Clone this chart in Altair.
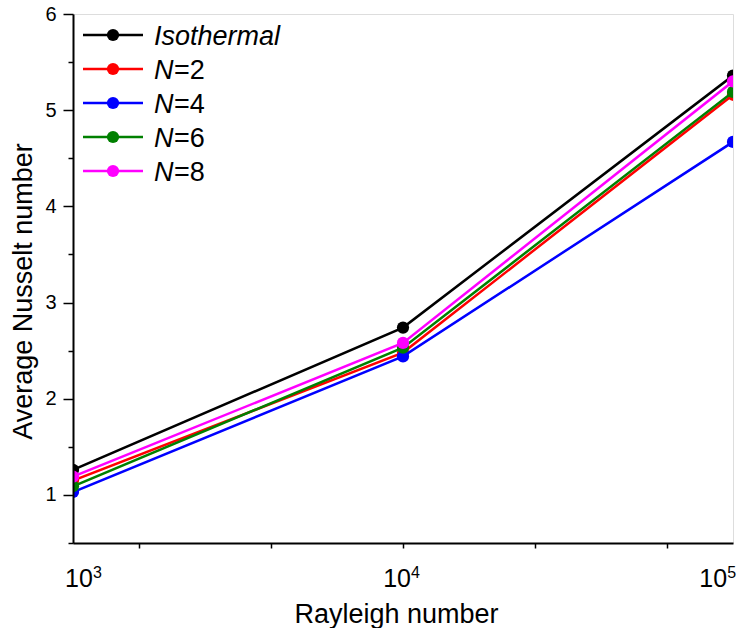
import altair as alt
import pandas as pd
import numpy as np

# ---------------- data ----------------
rayleigh = [1000, 10000, 100000]
series_names = ["Isothermal", "N=2", "N=4", "N=6", "N=8"]
nu_isothermal = [1.26, 2.74, 5.36]
nu_n2 = [1.15, 2.48, 5.16]
nu_n4 = [1.03, 2.44, 4.67]
nu_n6 = [1.09, 2.53, 5.19]
nu_n8 = [1.19, 2.58, 5.30]
series_values = [nu_isothermal, nu_n2, nu_n4, nu_n6, nu_n8]
series_colors = ["#000000", "#FF0000", "#0000FF", "#008000", "#FF00FF"]
legend_italic = ["Isothermal", "N", "N", "N", "N"]
legend_rest = ["", "=2", "=4", "=6", "=8"]
x_label_exponents = [3, 4, 5]
y_tick_values = [0.5, 1, 1.5, 2, 2.5, 3, 3.5, 4, 4.5, 5, 5.5, 6]
x_tick_log_positions = [3.2, 3.6, 4.0, 4.4, 4.8]

FONT = "Liberation Sans"
W, H = 660, 529
PT = 150

x_scale = alt.Scale(type="log", domain=[1000, 100000], nice=False)
y_scale = alt.Scale(domain=[0.5, 6], nice=False, zero=False)

x_axis = alt.Axis(
    values=[float(10 ** v) for v in x_tick_log_positions],
    labels=False, tickSize=5, tickColor="black", tickWidth=1.5,
    domainColor="black", domainWidth=2, grid=False,
    title="Rayleigh number", titleFont=FONT, titleFontSize=27,
    titleFontWeight="normal", titleColor="black",
    titleX=323, titleY=79, titleBaseline="alphabetic", titleAlign="center",
    zindex=1,
)
y_axis = alt.Axis(
    values=y_tick_values,
    tickSize={"condition": {"test": "datum.value % 1 === 0", "value": 10}, "value": 5},
    tickColor="black", tickWidth=1.5,
    labelExpr="datum.value % 1 === 0 ? format(datum.value, 'd') : ''",
    labelFont=FONT, labelFontSize=20, labelColor="black", labelPadding=7,
    domainColor="black", domainWidth=2, grid=False,
    title="Average Nusselt number", titleFont=FONT, titleFontSize=27,
    titleFontWeight="normal", titleColor="black",
    titleX=-42, titleY=277, titleAngle=-90, titleBaseline="alphabetic",
    titleAlign="center", zindex=1,
)

layers = []
first = True
for name, vals, col in zip(series_names, series_values, series_colors):
    df = pd.DataFrame({"Ra": rayleigh, "Nu": vals, "series": name})
    if first:
        enc_x = alt.X("Ra:Q", scale=x_scale, axis=x_axis)
        enc_y = alt.Y("Nu:Q", scale=y_scale, axis=y_axis)
        first = False
    else:
        enc_x = alt.X("Ra:Q", scale=x_scale)
        enc_y = alt.Y("Nu:Q", scale=y_scale)
    line = alt.Chart(df).mark_line(color=col, strokeWidth=2.5, clip=True).encode(x=enc_x, y=enc_y)
    pts = alt.Chart(df).mark_point(color=col, filled=True, opacity=1, size=PT, clip=True).encode(
        x=alt.X("Ra:Q", scale=x_scale), y=alt.Y("Nu:Q", scale=y_scale))
    layers += [line, pts]

# x tick labels 10^n drawn as text
lab_df = pd.DataFrame({"e": x_label_exponents})
lab_base = alt.Chart(lab_df).transform_calculate(
    lx="pow(10, datum.e + (datum.e == 3 ? 0.036 : (datum.e == 5 ? -0.042 : 0)))",
    sup="'' + datum.e",
)
lab10 = lab_base.mark_text(text="10", font=FONT, fontSize=25, align="right",
                           baseline="alphabetic", dx=8, color="black").encode(
    x=alt.X("lx:Q", scale=x_scale), y=alt.value(573))
labsup = lab_base.mark_text(font=FONT, fontSize=16, align="left",
                            baseline="alphabetic", dx=8, color="black").encode(
    x=alt.X("lx:Q", scale=x_scale), y=alt.value(564), text="sup:N")
layers += [lab10, labsup]

# manual legend
for i, (name, col, ital, rest) in enumerate(zip(series_names, series_colors, legend_italic, legend_rest)):
    ly = 21 + 34 * i
    one = pd.DataFrame({"series": [name]})
    layers.append(alt.Chart(one).mark_rule(color=col, strokeWidth=2.5).encode(
        x=alt.value(10), x2=alt.value(70), y=alt.value(ly)))
    layers.append(alt.Chart(one).mark_point(color=col, filled=True, opacity=1, size=PT).encode(
        x=alt.value(40), y=alt.value(ly)))
    layers.append(alt.Chart(one).mark_text(text=ital, font=FONT, fontSize=27, fontStyle="italic",
                                           align="left", baseline="alphabetic", color="black").encode(
        x=alt.value(81), y=alt.value(ly + 10)))
    if rest:
        layers.append(alt.Chart(one).mark_text(text=rest, font=FONT, fontSize=27,
                                               align="left", baseline="alphabetic", color="black").encode(
            x=alt.value(101), y=alt.value(ly + 10)))

chart = alt.layer(*layers).properties(
    width=W, height=H,
    padding={"left": 73, "top": 14, "right": 11, "bottom": 85},
    autosize="none",
).configure_view(stroke="black", strokeWidth=2).configure(background="white")

chart.save("out.html", embed_options={"renderer": "svg", "actions": False})
